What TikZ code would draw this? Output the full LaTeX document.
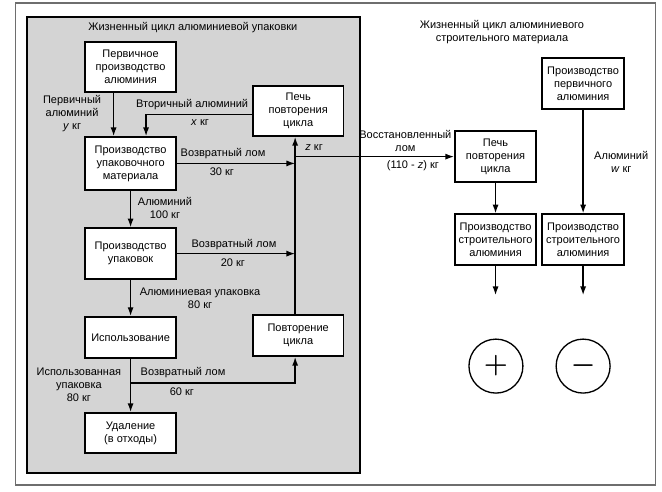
\documentclass[tikz,border=0pt]{standalone}
\usepackage{fontspec}
\setmainfont{Liberation Sans}
\usepackage{tikz}
\usetikzlibrary{arrows.meta, positioning, calc, backgrounds}
\definecolor{panelgray}{RGB}{212,212,212}
\definecolor{framegray}{RGB}{110,110,110}

\begin{document}
\begin{tikzpicture}[
    box/.style={draw, line width=1.3pt, fill=white, align=center, font=\fontsize{8.3}{9.8}\selectfont, minimum width=2.4cm, minimum height=1.33cm, inner sep=1pt},
    lbl/.style={align=center, font=\fontsize{8.3}{9.8}\selectfont, inner sep=1pt},
    arrow/.style={-{Latex[length=2.3mm, width=1.6mm]}, line width=1pt},
    sign/.style={draw, circle, line width=1pt, minimum size=1.43cm, inner sep=0pt, font=\fontsize{21}{21}\selectfont\boldmath}
]
\useasboundingbox (0,0) rectangle (17.54,-13.01);
% Frames
\draw[framegray, line width=0.8pt] (0.40,-0.08) rectangle (17.36,-12.85);
\draw[line width=1.5pt, fill=panelgray] (0.72,-0.45) rectangle (9.54,-12.53);
% Packaging life cycle
\node[lbl] (t1) at (5.11,-0.74) {Жизненный цикл алюминиевой упаковки};
\node[box] (prim) at (3.46,-1.78) {Первичное\\производство\\алюминия};
\node[box, minimum height=1.40cm] (packmat) at (3.46,-4.33) {Производство\\упаковочного\\материала};
\node[box, minimum height=1.35cm] (packs) at (3.46,-6.72) {Производство\\упаковок};
\node[box, minimum height=1.09cm] (use) at (3.46,-8.94) {Использование};
\node[box, minimum height=1.06cm] (waste) at (3.46,-11.47) {Удаление\\(в отходы)};
\node[box] (furnL) at (7.90,-2.94) {Печь\\повторения\\цикла};
\node[box, minimum height=1.09cm] (recyc) at (7.90,-8.89) {Повторение\\цикла};
\coordinate (spine) at (7.82,-6.0);
\coordinate (split) at (3.46,-10.15);
% Building material life cycle
\node[lbl] (t2) at (13.30,-0.85) {Жизненный цикл алюминиевого\\строительного материала};
\node[box, minimum width=2.17cm, minimum height=1.35cm] (primR) at (15.45,-2.21) {Производство\\первичного\\алюминия};
\node[box, minimum width=2.15cm, minimum height=1.35cm] (furnR) at (13.13,-4.15) {Печь\\повторения\\цикла};
\node[box, minimum width=2.15cm, minimum height=1.35cm] (buildL) at (13.13,-6.35) {Производство\\строительного\\алюминия};
\node[box, minimum width=2.17cm, minimum height=1.35cm] (buildR) at (15.45,-6.35) {Производство\\строительного\\алюминия};
\coordinate (endL) at (13.13,-7.82);
\coordinate (endR) at (15.45,-7.82);
\node[sign] (plus) at (13.14,-9.70) {$+$};
\node[sign] (minus) at (15.45,-9.70) {$-$};
% Labels
\node[lbl] (lprim) at (1.91,-3.0) {Первичный\\алюминий\\\textit{y} кг};
\node[lbl] (lsec) at (5.09,-2.78) {Вторичный алюминий};
\node[lbl] (lx) at (5.30,-3.26) {\textit{x} кг};
\node[lbl, anchor=west] (lz) at (8.05,-3.90) {\textit{z} кг};
\node[lbl] (lret1) at (5.91,-4.08) {Возвратный лом};
\node[lbl] (l30) at (5.88,-4.56) {30 кг};
\node[lbl] (lal) at (4.37,-5.51) {Алюминий\\100 кг};
\node[lbl] (lret2) at (6.20,-6.47) {Возвратный лом};
\node[lbl] (l20) at (6.17,-6.97) {20 кг};
\node[lbl] (lpack) at (5.30,-7.90) {Алюминиевая упаковка\\80 кг};
\node[lbl] (lused) at (2.09,-10.20) {Использованная\\упаковка\\80 кг};
\node[lbl] (lret3) at (4.85,-9.88) {Возвратный лом};
\node[lbl] (l60) at (4.82,-10.39) {60 кг};
\node[lbl] (lrest) at (10.74,-3.74) {Восстановленный\\лом};
\node[lbl] (l110) at (10.94,-4.40) {(110 - \textit{z}) кг};
\node[lbl] (lw) at (16.46,-4.29) {Алюминий\\\textit{w} кг};
% Arrows
\draw[arrow] ([xshift=-0.45cm]prim.south) -- ([xshift=-0.45cm]packmat.north);
\draw[arrow] ([yshift=-0.1cm]furnL.west) -| ([xshift=0.41cm]packmat.north);
\draw[arrow] (packmat) -- (packs);
\draw[arrow] (packs) -- (use);
\draw[arrow] (use) -- (waste);
\draw[arrow] (packmat.east) -- (packmat.east -| spine);
\draw[arrow] (packs.east) -- (packs.east -| spine);
\draw[arrow] (recyc.north -| spine) -- (furnL.south -| spine);
\draw[arrow] (split) -| (recyc.south -| spine);
\draw[arrow] (spine |- furnR.west) -- (furnR.west);
\draw[arrow] (furnR) -- (buildL);
\draw[arrow] (primR) -- (buildR);
\draw[arrow] (buildL.south) -- (endL);
\draw[arrow] (buildR.south) -- (endR);
\end{tikzpicture}
\end{document}
